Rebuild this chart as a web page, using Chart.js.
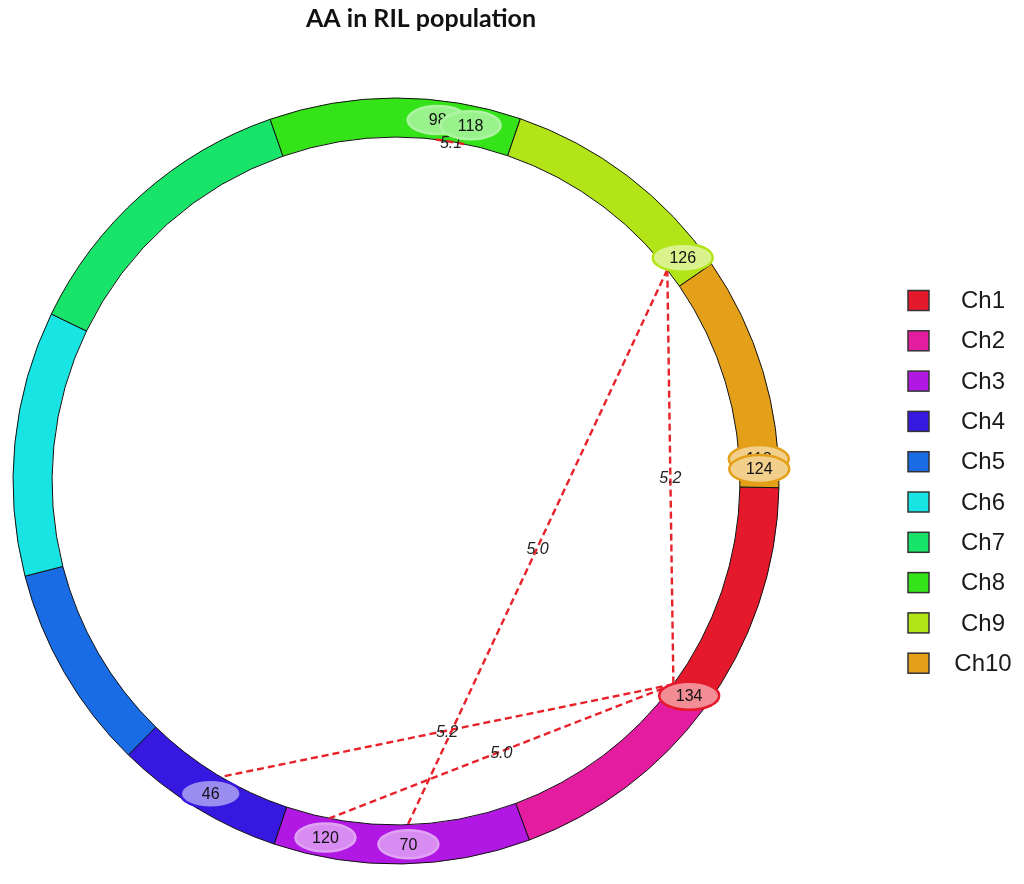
<!DOCTYPE html>
<html>
<head>
<meta charset="utf-8">
<script src="https://cdn.jsdelivr.net/npm/chart.js@4.4.1/dist/chart.umd.min.js"></script>
<style>
  html, body { margin: 0; padding: 0; background: #fff; }
  #wrap { position: relative; width: 1024px; height: 884px; }
</style>
</head>
<body>
<div id="wrap"><canvas id="circos" width="1024" height="884"></canvas></div>
<script>
// Chromosomes (lengths in cM)
const chromosomes = ['Ch1', 'Ch2', 'Ch3', 'Ch4', 'Ch5', 'Ch6', 'Ch7', 'Ch8', 'Ch9', 'Ch10'];
const chromLengths = [135, 126, 148, 98, 119, 153, 171, 145, 139, 135];
const chromColors = ['#E4192B', '#E41DA0', '#B118E4', '#3718E0', '#1A6CE4',
                     '#19E4E4', '#18E46A', '#35E418', '#B3E418', '#E4A018'];

// QTL markers: chromosome index (0-based) and position on it
const markerChrom = [8, 0, 3, 2, 2, 7, 7, 9, 9];
const markerPos = [126, 134, 46, 120, 70, 98, 118, 118, 124];
const markerOutlined = [true, true, true, false, false, false, false, true, true];

// Epistatic links (indices into the marker arrays) and their LOD labels
const linkFrom = [0, 0, 1, 1, 5, 7];
const linkTo = [1, 4, 2, 3, 6, 8];
const linkLabels = ['5.2', '5.0', '5.2', '5.0', '5.1', '5.0'];

const titleText = 'AA in RIL population';

// mix a hex colour with white
function lighten(hex, amt) {
    const n = parseInt(hex.slice(1), 16);
    const r = (n >> 16) & 255, g = (n >> 8) & 255, b = n & 255;
    const f = c => Math.round(c + (255 - c) * amt);
    return `rgb(${f(r)},${f(g)},${f(b)})`;
}

// Draws links, markers, legend and title on top of the ring
const circosOverlay = {
    id: 'circosOverlay',
    afterDatasetsDraw(chart) {
        const ctx = chart.ctx;
        const arcs = chart.getDatasetMeta(0).data;
        const cx = arcs[0].x, cy = arcs[0].y;
        const inner = arcs[0].innerRadius, outer = arcs[0].outerRadius;
        const mid = (inner + outer) / 2;

        const angleOf = i => {
            const arc = arcs[markerChrom[i]];
            return arc.startAngle + markerPos[i] / chromLengths[markerChrom[i]] * (arc.endAngle - arc.startAngle);
        };
        const pointAt = (i, r) => {
            const a = angleOf(i);
            return { x: cx + r * Math.cos(a), y: cy + r * Math.sin(a) };
        };

        // links
        ctx.save();
        ctx.strokeStyle = '#E8222A';
        ctx.lineWidth = 2.4;
        ctx.setLineDash([7, 4]);
        linkFrom.forEach((from, k) => {
            const p = pointAt(from, inner);
            const q = pointAt(linkTo[k], inner);
            ctx.beginPath();
            ctx.moveTo(p.x, p.y);
            ctx.lineTo(q.x, q.y);
            ctx.stroke();
        });
        ctx.setLineDash([]);
        ctx.fillStyle = '#222';
        ctx.font = 'italic 16px "Liberation Sans", Arial, sans-serif';
        ctx.textAlign = 'center';
        ctx.textBaseline = 'middle';
        linkFrom.forEach((from, k) => {
            const p = pointAt(from, inner);
            const q = pointAt(linkTo[k], inner);
            ctx.fillText(linkLabels[k], (p.x + q.x) / 2, (p.y + q.y) / 2 + 2);
        });

        // markers
        ctx.font = '16px "Liberation Sans", Arial, sans-serif';
        markerPos.forEach((pos, i) => {
            const c = pointAt(i, mid);
            const col = chromColors[markerChrom[i]];
            ctx.beginPath();
            ctx.ellipse(c.x, c.y, 30, 14, 0, 0, Math.PI * 2);
            ctx.fillStyle = lighten(col, 0.5);
            ctx.fill();
            ctx.lineWidth = 2.5;
            ctx.strokeStyle = markerOutlined[i] ? col : lighten(col, 0.6);
            ctx.stroke();
            ctx.fillStyle = '#111';
            ctx.fillText(String(pos), c.x, c.y + 1);
        });
        ctx.restore();
    },
    afterDraw(chart) {
        const ctx = chart.ctx;
        ctx.save();
        // legend
        ctx.font = '24px "Liberation Sans", Arial, sans-serif';
        ctx.textAlign = 'center';
        ctx.textBaseline = 'middle';
        chromosomes.forEach((name, i) => {
            const y = 300.5 + i * 40.3;
            ctx.fillStyle = chromColors[i];
            ctx.fillRect(908, y - 10, 21, 20);
            ctx.strokeStyle = '#333';
            ctx.lineWidth = 1.5;
            ctx.strokeRect(908, y - 10, 21, 20);
            ctx.fillStyle = '#1a1a1a';
            ctx.fillText(name, 983, y + 1);
        });
        // title
        ctx.font = 'bold 25px Lato, "Open Sans", sans-serif';
        ctx.textBaseline = 'alphabetic';
        ctx.fillStyle = '#111';
        ctx.fillText(titleText, 421, 27);
        ctx.restore();
    }
};

new Chart(document.getElementById('circos'), {
    type: 'doughnut',
    data: {
        labels: chromosomes,
        datasets: [{
            data: chromLengths,
            backgroundColor: chromColors,
            borderColor: '#111',
            borderWidth: 1,
            hoverOffset: 0
        }]
    },
    options: {
        responsive: false,
        animation: false,
        events: [],
        rotation: 91,
        cutout: '89.8%',
        radius: 383,
        layout: { padding: { left: 13, right: 245, top: 98, bottom: 20 } },
        plugins: {
            legend: { display: false },
            tooltip: { enabled: false }
        }
    },
    plugins: [circosOverlay]
});
</script>
</body>
</html>
